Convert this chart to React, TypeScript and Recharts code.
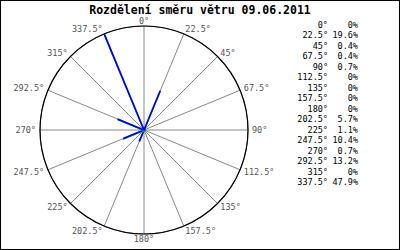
import { RadarChart, Radar, PolarGrid, PolarAngleAxis, PolarRadiusAxis } from "recharts";

const directions = ["0°", "22.5°", "45°", "67.5°", "90°", "112.5°", "135°", "157.5°", "180°", "202.5°", "225°", "247.5°", "270°", "292.5°", "315°", "337.5°"];
const shares = [0, 19.6, 0.4, 0.4, 0.7, 0, 0, 0, 0, 5.7, 1.1, 10.4, 0.7, 13.2, 0, 47.9];
const title = "Rozdělení směru větru 09.06.2011";

const CX = 144;
const CY = 130;
const R = 104;
const mono = "'DejaVu Sans Mono', monospace";

const data = directions.map((dir, i) => ({ dir, share: shares[i] }));
const maxShare = Math.max(...shares);

const fmt = (v: number) => (v === 0 ? "0%" : `${v.toFixed(1)}%`);

// angle labels sit just outside the circle, anchored by side
function AngleTick(props: any) {
  const i = directions.indexOf(props.payload.value);
  const a = ((90 - i * 22.5) * Math.PI) / 180;
  const dx = Math.cos(a);
  const dy = -Math.sin(a);
  const x = CX + (R + 4) * dx;
  const y = CY + (R + 5) * dy;
  const anchor = dx > 0.1 ? "start" : dx < -0.1 ? "end" : "middle";
  return (
    <text x={x} y={y + 3} textAnchor={anchor} fontFamily={mono} fontSize={8.5} fill="#555">
      {props.payload.value}
    </text>
  );
}

// each direction is drawn as a spoke from the centre
function Spokes(props: any) {
  const pts = props.points || [];
  return (
    <g>
      {pts.map((p: any, i: number) =>
        p.value > 0 ? (
          <g key={i}>
            <line x1={CX} y1={CY + 0.8} x2={p.x} y2={p.y + 0.8} stroke="#00e000" strokeWidth={1} />
            <line x1={CX} y1={CY} x2={p.x} y2={p.y} stroke="#0000ff" strokeWidth={1.8} />
          </g>
        ) : null
      )}
    </g>
  );
}

export default function App() {
  return (
    <div style={{ position: "absolute", left: 0, top: 0, width: 400, height: 250, background: "#fff" }}>
      <RadarChart width={400} height={250} data={data} cx={CX} cy={CY} outerRadius={R} margin={{ top: 0, right: 0, bottom: 0, left: 0 }}>
        <PolarGrid gridType="circle" polarRadius={[R]} stroke="#888" />
        <PolarAngleAxis
          dataKey="dir"
          axisLineType="circle"
          axisLine={{ stroke: "#000", strokeWidth: 1.2 }}
          tickLine={false}
          tick={<AngleTick />}
        />
        <PolarRadiusAxis type="number" domain={[0, maxShare]} allowDataOverflow tick={false} axisLine={false} />
        <Radar dataKey="share" shape={<Spokes />} dot={false} isAnimationActive={false} />
      </RadarChart>
      <div
        style={{
          position: "absolute",
          left: 0,
          top: 4,
          width: 400,
          textAlign: "center",
          fontFamily: mono,
          fontWeight: "bold",
          fontSize: 11.5,
          lineHeight: "12px",
          color: "#000",
        }}
      >
        {title}
      </div>
      {directions.map((dir, i) => (
        <div
          key={dir}
          style={{
            position: "absolute",
            left: 280,
            top: 20 + i * 10.47,
            width: 78,
            height: 10,
            fontFamily: mono,
            fontSize: 8.5,
            lineHeight: "10px",
            color: "#000",
          }}
        >
          <span style={{ position: "absolute", right: 30, whiteSpace: "pre" }}>{dir}</span>
          <span style={{ position: "absolute", right: 0, whiteSpace: "pre" }}>{fmt(shares[i])}</span>
        </div>
      ))}
      <div style={{ position: "absolute", left: 0, top: 0, width: 400, height: 250, boxSizing: "border-box", border: "1px solid #000", pointerEvents: "none" }} />
    </div>
  );
}
